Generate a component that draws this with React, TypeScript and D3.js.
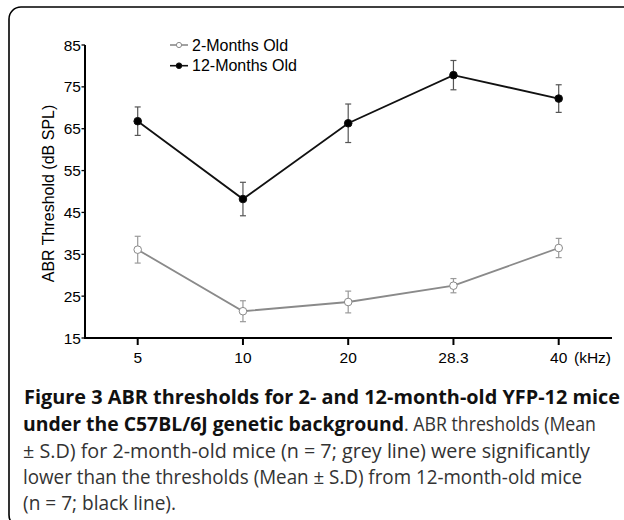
import React from 'react';
import * as d3 from 'd3';

// frequencies (kHz) and ABR thresholds
const frequencies = ['5', '10', '20', '28.3', '40'];
const young = [36.1, 21.4, 23.6, 27.5, 36.5];
const youngSD = [3.2, 2.5, 2.6, 1.7, 2.3];
const old = [66.8, 48.2, 66.3, 77.8, 72.2];
const oldSD = [3.4, 4.0, 4.6, 3.5, 3.3];
const yTicks = [15, 25, 35, 45, 55, 65, 75, 85];

const seriesNames = ['2-Months Old', '12-Months Old'];

const width = 624;
const height = 520;
const font = 'Arial, "Liberation Sans", sans-serif';
const capFont = '"Open Sans", sans-serif';

const App: React.FC = () => {
  const x = d3.scalePoint<string>().domain(frequencies).range([137.7, 558.7]);
  const y = d3.scaleLinear().domain([15, 85]).range([338, 45]);
  const axisLeft = 85;
  const axisRight = 612;

  const line = d3.line<number>()
    .x((_, i) => x(frequencies[i]) as number)
    .y(d => y(d));

  const series = [
    { values: young, sd: youngSD, stroke: '#8a8a8a', err: '#9a9a9a', fill: '#fff' },
    { values: old, sd: oldSD, stroke: '#111', err: '#555', fill: '#000' },
  ];

  return (
    <svg width={width} height={height} viewBox={`0 0 ${width} ${height}`}
      style={{ position: 'absolute', left: 0, top: 0, background: '#fff' }}>
      {/* frame */}
      <rect x={9} y={7} width={700} height={520} rx={12} fill="none" stroke="#000" strokeWidth={1.6} />

      {/* y axis */}
      <line x1={axisLeft} x2={axisLeft} y1={y(85)} y2={y(15) + 1} stroke="#000" strokeWidth={2} />
      {yTicks.map(t => (
        <g key={t}>
          <line x1={axisLeft - 3.5} x2={axisLeft} y1={y(t)} y2={y(t)} stroke="#000" strokeWidth={1.3} />
          <text x={axisLeft - 4} y={y(t)} dy="0.36em" textAnchor="end" fontFamily={font} fontSize={15.5}>{t}</text>
        </g>
      ))}
      <text transform={`translate(54,${(y(85) + y(15)) / 2 + 2}) rotate(-90)`} textAnchor="middle"
        fontFamily={font} fontSize={16}>ABR Threshold (dB SPL)</text>

      {/* x axis */}
      <line x1={axisLeft - 1} x2={axisRight} y1={y(15)} y2={y(15)} stroke="#000" strokeWidth={2} />
      {frequencies.map(f => (
        <g key={f}>
          <line x1={x(f)} x2={x(f)} y1={y(15)} y2={y(15) + 7} stroke="#000" strokeWidth={2} />
          <text x={x(f)} y={363} textAnchor="middle" fontFamily={font} fontSize={15.5}>{f}</text>
        </g>
      ))}
      <text x={574} y={363} fontFamily={font} fontSize={15.5}>(kHz)</text>

      {/* series */}
      {series.map((s, si) => (
        <g key={si}>
          <path d={line(s.values) as string} fill="none" stroke={s.stroke} strokeWidth={1.8} />
          {s.values.map((v, i) => {
            const cx = x(frequencies[i]) as number;
            return (
              <g key={i}>
                <line x1={cx} x2={cx} y1={y(v + s.sd[i])} y2={y(v - s.sd[i])} stroke={s.err} strokeWidth={1.2} />
                <line x1={cx - 3} x2={cx + 3} y1={y(v + s.sd[i])} y2={y(v + s.sd[i])} stroke={s.err} strokeWidth={1.2} />
                <line x1={cx - 3} x2={cx + 3} y1={y(v - s.sd[i])} y2={y(v - s.sd[i])} stroke={s.err} strokeWidth={1.2} />
                <circle cx={cx} cy={y(v)} r={3.8} fill={s.fill} stroke={s.stroke} strokeWidth={1} />
              </g>
            );
          })}
        </g>
      ))}

      {/* legend */}
      {seriesNames.map((name, i) => {
        const ly = 45 + i * 20.7;
        const s = series[i];
        return (
          <g key={name}>
            <line x1={170} x2={188} y1={ly} y2={ly} stroke={s.stroke} strokeWidth={1.6} />
            <circle cx={179} cy={ly} r={i === 0 ? 2.6 : 2.8} fill={s.fill} stroke={s.stroke} strokeWidth={1} />
            <text x={192} y={ly} dy="0.36em" fontFamily={font} fontSize={16}>{name}</text>
          </g>
        );
      })}

      {/* caption */}
      <g fontFamily={capFont} fontSize={20} fill="#111">
        <text x={24} y={404} fontWeight="bold" textLength={596} lengthAdjust="spacingAndGlyphs">
          Figure 3 ABR thresholds for 2- and 12-month-old YFP-12 mice
        </text>
        <text x={23} y={431} fontWeight="bold" textLength={381} lengthAdjust="spacingAndGlyphs">
          under the C57BL/6J genetic background
        </text>
        <text x={404} y={431} fill="#333" textLength={192} lengthAdjust="spacingAndGlyphs">
          . ABR thresholds (Mean
        </text>
        <text x={23} y={458} fill="#333" textLength={567} lengthAdjust="spacingAndGlyphs">
          ± S.D) for 2-month-old mice (n = 7; grey line) were significantly
        </text>
        <text x={23} y={484} fill="#333" textLength={559} lengthAdjust="spacingAndGlyphs">
          lower than the thresholds (Mean ± S.D) from 12-month-old mice
        </text>
        <text x={23} y={510} fill="#333" textLength={153} lengthAdjust="spacingAndGlyphs">
          (n = 7; black line).
        </text>
      </g>
    </svg>
  );
};

export default App;
